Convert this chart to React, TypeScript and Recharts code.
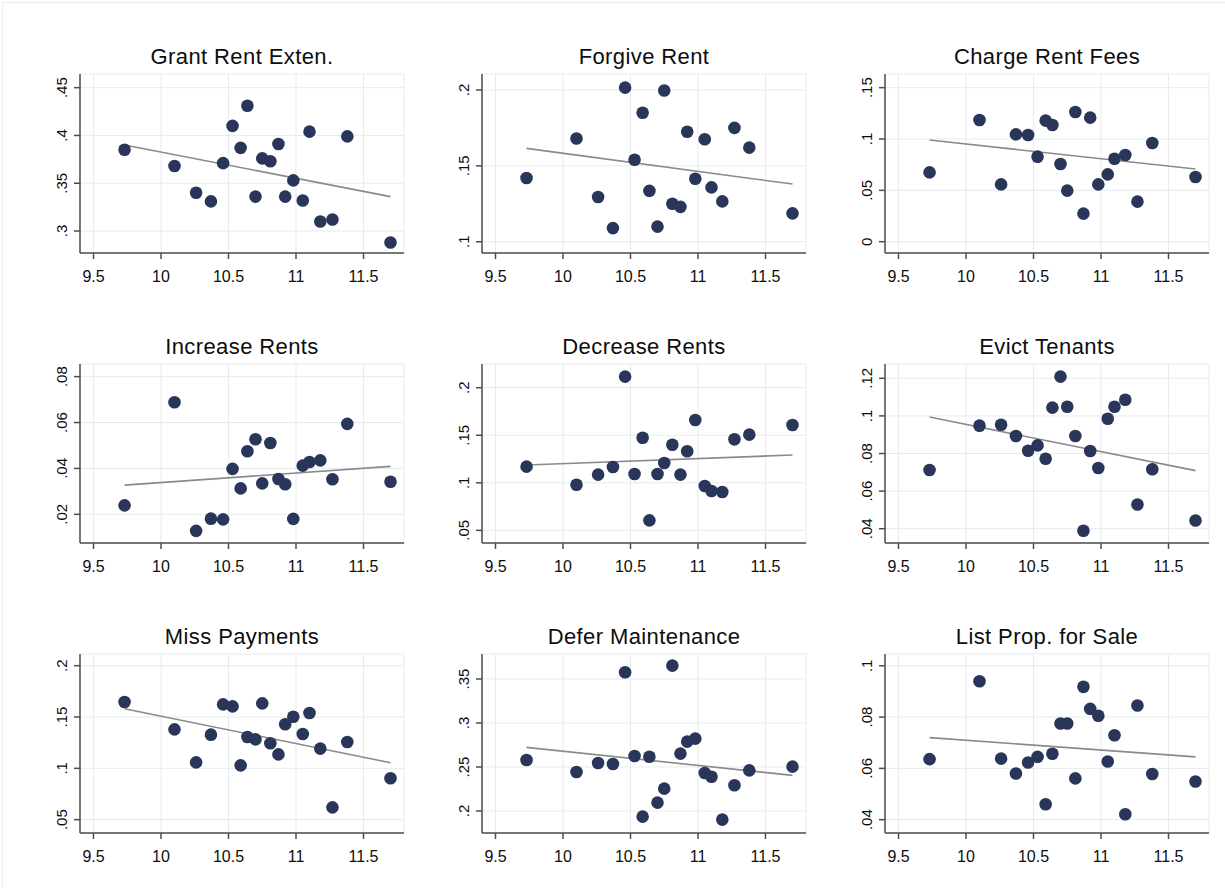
import { ScatterChart, Scatter, XAxis, YAxis, CartesianGrid } from 'recharts'

/* ---------- data ---------- */

// shared x values (same 20 observations in every panel)
const X = [9.73, 10.1, 10.26, 10.37, 10.46, 10.53, 10.59, 10.64, 10.7, 10.75, 10.81, 10.87, 10.92, 10.98, 11.05, 11.1, 11.18, 11.27, 11.38, 11.7]
const X_TICKS = [9.5, 10, 10.5, 11, 11.5]
const FIT_X = [9.73, 11.7]

const grantRent = [0.385, 0.368, 0.34, 0.331, 0.371, 0.41, 0.387, 0.431, 0.336, 0.376, 0.373, 0.391, 0.336, 0.353, 0.332, 0.404, 0.31, 0.312, 0.399, 0.288]
const forgiveRent = [0.142, 0.168, 0.1295, 0.109, 0.2015, 0.154, 0.185, 0.1335, 0.11, 0.1996, 0.125, 0.123, 0.1725, 0.1415, 0.1675, 0.1358, 0.1266, 0.175, 0.162, 0.1187]
const chargeFees = [0.0675, 0.1185, 0.0558, 0.1045, 0.1039, 0.0828, 0.1179, 0.1136, 0.0756, 0.0497, 0.1263, 0.0273, 0.1208, 0.0558, 0.0656, 0.0808, 0.0844, 0.039, 0.0961, 0.063]
const increaseRents = [0.0239, 0.0688, 0.0128, 0.0181, 0.0178, 0.0398, 0.0313, 0.0475, 0.0527, 0.0335, 0.0511, 0.0354, 0.0331, 0.018, 0.0412, 0.0428, 0.0435, 0.0353, 0.0594, 0.0342]
const decreaseRents = [0.117, 0.098, 0.1086, 0.1166, 0.2116, 0.1093, 0.1474, 0.0605, 0.1093, 0.1208, 0.14, 0.1086, 0.1331, 0.166, 0.0966, 0.0914, 0.0903, 0.1457, 0.1506, 0.1608]
const evictTenants = [0.0712, 0.0948, 0.0953, 0.0893, 0.0815, 0.0843, 0.0772, 0.1044, 0.1209, 0.1049, 0.0893, 0.0389, 0.0813, 0.0723, 0.0985, 0.1049, 0.1086, 0.0529, 0.0716, 0.0444]
const missPayments = [0.1646, 0.138, 0.1058, 0.1328, 0.1623, 0.1604, 0.1029, 0.1305, 0.1282, 0.1633, 0.1244, 0.1136, 0.1429, 0.1503, 0.1334, 0.1539, 0.1192, 0.062, 0.1257, 0.0903]
const deferMaint = [0.258, 0.2443, 0.2545, 0.2534, 0.3576, 0.2625, 0.1936, 0.2617, 0.2095, 0.2254, 0.3652, 0.2652, 0.2788, 0.2822, 0.2432, 0.239, 0.1902, 0.2292, 0.2462, 0.2504]
const listForSale = [0.0636, 0.094, 0.0638, 0.058, 0.0623, 0.0645, 0.046, 0.0657, 0.0775, 0.0775, 0.0561, 0.0918, 0.0832, 0.0805, 0.0627, 0.0729, 0.0421, 0.0845, 0.0578, 0.0549]

// fitted line ends
const grantFit = [0.39, 0.336]
const forgiveFit = [0.1615, 0.138]
const chargeFit = [0.099, 0.0708]
const increaseFit = [0.0327, 0.0409]
const decreaseFit = [0.1187, 0.1292]
const evictFit = [0.0994, 0.0709]
const missFit = [0.158, 0.1055]
const deferFit = [0.2723, 0.2405]
const listFit = [0.072, 0.0645]

const T_GRANT = [0.3, 0.35, 0.4, 0.45]
const L_GRANT = ['.3', '.35', '.4', '.45']
const T_FORGIVE = [0.1, 0.15, 0.2]
const L_FORGIVE = ['.1', '.15', '.2']
const T_CHARGE = [0, 0.05, 0.1, 0.15]
const L_CHARGE = ['0', '.05', '.1', '.15']
const T_INCREASE = [0.02, 0.04, 0.06, 0.08]
const L_INCREASE = ['.02', '.04', '.06', '.08']
const T_DECREASE = [0.05, 0.1, 0.15, 0.2]
const L_DECREASE = ['.05', '.1', '.15', '.2']
const T_EVICT = [0.04, 0.06, 0.08, 0.1, 0.12]
const L_EVICT = ['.04', '.06', '.08', '.1', '.12']
const T_MISS = [0.05, 0.1, 0.15, 0.2]
const L_MISS = ['.05', '.1', '.15', '.2']
const T_DEFER = [0.2, 0.25, 0.3, 0.35]
const L_DEFER = ['.2', '.25', '.3', '.35']
const T_LIST = [0.04, 0.06, 0.08, 0.1]
const L_LIST = ['.04', '.06', '.08', '.1']

/* ---------- layout / style ---------- */

const FONT = '"Liberation Sans", Arial, sans-serif'
const NAVY = '#29365a'
const GRID = '#e4ecee'
const AXIS = '#4d4d4d'
const FIT = '#8a8a8a'
const INK = '#0d0d0d'

const PLOT_W = 324
const PLOT_H = 179
const COL_LEFT = [80, 482, 885]
const ROW_TOP = [74, 364, 654]
const M_LEFT = 60
const M_TOP = 40
const M_RIGHT = 10
const M_BOTTOM = 40

interface Panel {
  title: string
  ys: number[]
  fit: number[]
  ticks: number[]
  labels: string[]
  domain: [number, number]
}

const PANELS: Panel[] = [
  { title: 'Grant Rent Exten.', ys: grantRent, fit: grantFit, ticks: T_GRANT, labels: L_GRANT, domain: [0.277, 0.4643] },
  { title: 'Forgive Rent', ys: forgiveRent, fit: forgiveFit, ticks: T_FORGIVE, labels: L_FORGIVE, domain: [0.0926, 0.2105] },
  { title: 'Charge Rent Fees', ys: chargeFees, fit: chargeFit, ticks: T_CHARGE, labels: L_CHARGE, domain: [-0.011, 0.1633] },
  { title: 'Increase Rents', ys: increaseRents, fit: increaseFit, ticks: T_INCREASE, labels: L_INCREASE, domain: [0.0075, 0.0855] },
  { title: 'Decrease Rents', ys: decreaseRents, fit: decreaseFit, ticks: T_DECREASE, labels: L_DECREASE, domain: [0.0367, 0.2249] },
  { title: 'Evict Tenants', ys: evictTenants, fit: evictFit, ticks: T_EVICT, labels: L_EVICT, domain: [0.0324, 0.1276] },
  { title: 'Miss Payments', ys: missPayments, fit: missFit, ticks: T_MISS, labels: L_MISS, domain: [0.037, 0.2114] },
  { title: 'Defer Maintenance', ys: deferMaint, fit: deferFit, ticks: T_DEFER, labels: L_DEFER, domain: [0.175, 0.3784] },
  { title: 'List Prop. for Sale', ys: listForSale, fit: listFit, ticks: T_LIST, labels: L_LIST, domain: [0.0348, 0.1046] },
]

const xLabel = (v: number) => String(v)

function NoDot() {
  return <g />
}

function Dot(p: { cx?: number; cy?: number }) {
  return <circle cx={p.cx} cy={p.cy} r={6.3} fill={NAVY} />
}

function YTick({ x, y, payload, labels, ticks }: any) {
  const i = ticks.indexOf(payload.value)
  const lbl = i >= 0 ? labels[i] : String(payload.value)
  return (
    <text x={x - 5} y={y} transform={`rotate(-90 ${x - 5} ${y})`} textAnchor="middle"
      fontFamily={FONT} fontSize={15} fill={INK}>
      {lbl}
    </text>
  )
}

function PanelChart({ p, left, top }: { p: Panel; left: number; top: number }) {
  const pts = X.map((x, i) => ({ x, y: p.ys[i] }))
  const fit = FIT_X.map((x, i) => ({ x, y: p.fit[i] }))
  return (
    <div style={{ position: 'absolute', left: left - M_LEFT, top: top - M_TOP }}>
      <div style={{
        position: 'absolute', left: M_LEFT - 20, width: PLOT_W + 40, top: M_TOP - 28, textAlign: 'center',
        fontFamily: FONT, fontSize: 22, lineHeight: '22px', color: INK, letterSpacing: 0.4,
      }}>{p.title}</div>
      <ScatterChart width={M_LEFT + PLOT_W + M_RIGHT} height={M_TOP + PLOT_H + M_BOTTOM}
        margin={{ top: M_TOP, right: M_RIGHT, left: 0, bottom: 0 }}>
        <CartesianGrid stroke={GRID} strokeWidth={1} />
        <XAxis type="number" dataKey="x" domain={[9.4, 11.8]} ticks={X_TICKS} allowDataOverflow
          height={M_BOTTOM} tickSize={6} tickMargin={12} tickFormatter={xLabel}
          tick={{ fontFamily: FONT, fontSize: 16, fill: INK }}
          axisLine={{ stroke: AXIS, strokeWidth: 1.5 }} tickLine={{ stroke: AXIS, strokeWidth: 1.5 }} />
        <YAxis type="number" dataKey="y" domain={p.domain} ticks={p.ticks} allowDataOverflow
          width={M_LEFT} tickSize={6} tickMargin={2}
          tick={<YTick labels={p.labels} ticks={p.ticks} />}
          axisLine={{ stroke: AXIS, strokeWidth: 1.5 }} tickLine={{ stroke: AXIS, strokeWidth: 1.5 }} />
        <Scatter data={fit} line={{ stroke: FIT, strokeWidth: 1.6 }} shape={NoDot} isAnimationActive={false} />
        <Scatter data={pts} shape={Dot} isAnimationActive={false} />
      </ScatterChart>
    </div>
  )
}

export default function App() {
  return (
    <div style={{ position: 'absolute', left: 0, top: 0, width: 1225, height: 888, background: '#fff', overflow: 'hidden' }}>
      <div style={{ position: 'absolute', left: 2, top: 2, width: 1223, height: 886, borderTop: '1px solid #ececec', borderLeft: '1px solid #ececec' }} />
      {PANELS.map((p, i) => (
        <PanelChart key={p.title} p={p} left={COL_LEFT[i % 3]} top={ROW_TOP[Math.floor(i / 3)]} />
      ))}
    </div>
  )
}
